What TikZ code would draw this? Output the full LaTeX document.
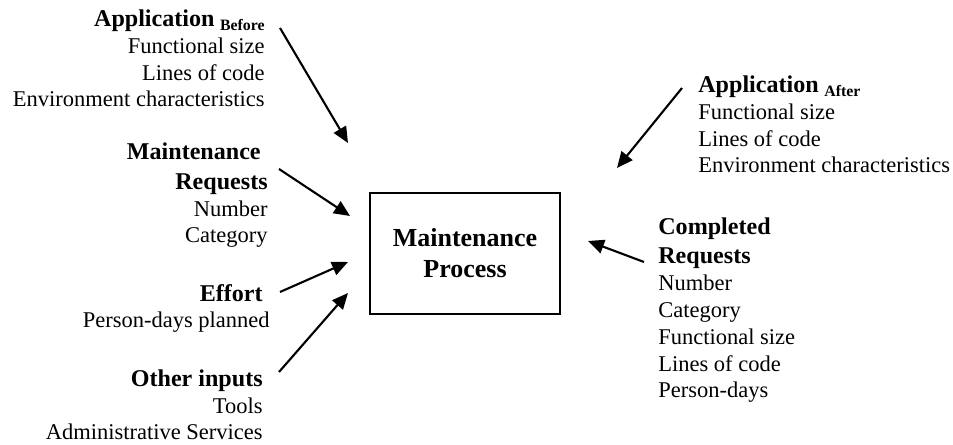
\documentclass[tikz,border=0pt]{standalone}
\usepackage{fontspec}
\setmainfont{Liberation Serif}
\usepackage{tikz}
\usetikzlibrary{arrows.meta, positioning, calc}
\newcommand{\Head}[1]{{\fontsize{13.7}{15.3}\selectfont\bfseries #1}}
\newcommand{\Sub}[1]{\raisebox{-0.09cm}{\fontsize{9}{9}\selectfont\bfseries #1}}
\tikzset{
    item/.style={font=\fontsize{12.8}{15.3}\selectfont, inner sep=0pt},
    itemL/.style={item, align=right, anchor=base east},
    itemR/.style={item, align=left, anchor=base west},
    procbox/.style={draw, line width=0.8pt, minimum width=3.8cm, minimum height=2.42cm,
        align=center, font=\fontsize{14.8}{17.6}\selectfont\bfseries},
    flow/.style={-{Triangle[length=0.32cm, width=0.28cm]}, line width=1.2pt}
}
\begin{document}
\begin{tikzpicture}
    \useasboundingbox (0,0) rectangle (19.06,8.90);

    % Process
    \node[procbox] (proc) at (9.30,3.83) {Maintenance\\Process};

    % Inputs (anchored at the last line)
    \node[itemL] (appBefore) at (5.30,6.76) {\Head{Application} \Sub{Before}\\Functional size\\Lines of code\\Environment characteristics};
    \node[itemL] (mainReq) at (5.36,4.04) {\Head{Maintenance}\hspace*{0.14cm}\\[1.5pt]\Head{Requests}\hspace*{0.14cm}\\Number\\Category};
    \node[itemL] (effort) at (5.40,2.34) {\Head{Effort}\hspace*{0.14cm}\\Person-days planned};
    \node[itemL] (other) at (5.26,0.10) {\Head{Other inputs}\\Tools\\Administrative Services};

    % Outputs
    \node[itemR] (appAfter) at (13.96,5.44) {\Head{Application} \Sub{After}\\Functional size\\Lines of code\\Environment characteristics};
    \node[itemR] (doneReq) at (13.16,0.94) {\Head{Completed}\\[1.5pt]\Head{Requests}\\Number\\Category\\Functional size\\Lines of code\\Person-days};

    % arrow ends
    \coordinate (aBs) at (5.60,8.34);  \coordinate (aBe) at (6.96,6.04);
    \coordinate (mRs) at (5.58,5.52);  \coordinate (mRe) at (7.00,4.58);
    \coordinate (efs) at (5.60,3.06);  \coordinate (efe) at (6.96,3.66);
    \coordinate (ots) at (5.58,1.46);  \coordinate (ote) at (6.96,3.04);
    \coordinate (aAs) at (13.64,7.14); \coordinate (aAe) at (12.34,5.54);
    \coordinate (cRs) at (12.88,3.66); \coordinate (cRe) at (11.76,4.08);

    \draw[flow] (aBs) -- (aBe);
    \draw[flow] (mRs) -- (mRe);
    \draw[flow] (efs) -- (efe);
    \draw[flow] (ots) -- (ote);
    \draw[flow] (aAs) -- (aAe);
    \draw[flow] (cRs) -- (cRe);
\end{tikzpicture}
\end{document}
